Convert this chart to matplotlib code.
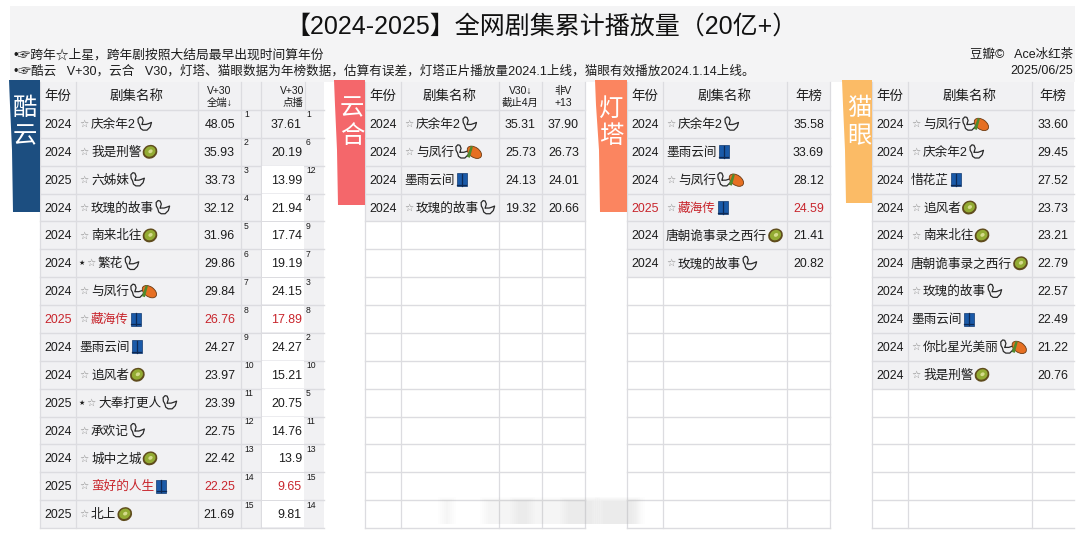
import matplotlib
matplotlib.use('Agg')
import matplotlib.pyplot as plt
from matplotlib.patches import Rectangle, Polygon, Ellipse

plt.rcParams['font.family'] = ['Liberation Sans', 'Noto Sans CJK SC', 'DejaVu Sans']

title = '【2024-2025】全网剧集累计播放量（20亿+）'
note_1 = '•☞跨年☆上星，跨年剧按照大结局最早出现时间算年份'
note_2 = '•☞酷云   V+30，云合   V30，灯塔、猫眼数据为年榜数据，估算有误差，灯塔正片播放量2024.1上线，猫眼有效播放2024.1.14上线。'
source_1 = '豆瓣©   Ace冰红茶'
source_2 = '2025/06/25'

# 酷云
ky_years = [2024, 2024, 2025, 2024, 2024, 2024, 2024, 2025, 2024, 2024, 2025, 2024, 2024, 2025, 2025]
ky_names = ['☆庆余年2', '☆我是刑警', '☆六姊妹', '☆玫瑰的故事', '☆南来北往', '★☆繁花', '☆与凤行', '☆藏海传',
            '墨雨云间', '☆追风者', '★☆大奉打更人', '☆承欢记', '☆城中之城', '☆蛮好的人生', '☆北上']
ky_icons = ['swan', 'kiwi', 'swan', 'swan', 'kiwi', 'swan', 'swanmango', 'blue',
            'blue', 'kiwi', 'swan', 'swan', 'kiwi', 'blue', 'kiwi']
ky_total = ['48.05', '35.93', '33.73', '32.12', '31.96', '29.86', '29.84', '26.76',
            '24.27', '23.97', '23.39', '22.75', '22.42', '22.25', '21.69']
ky_total_rank = [1, 2, 3, 4, 5, 6, 7, 8, 9, 10, 11, 12, 13, 14, 15]
ky_vod = ['37.61', '20.19', '13.99', '21.94', '17.74', '19.19', '24.15', '17.89',
          '24.27', '15.21', '20.75', '14.76', '13.9', '9.65', '9.81']
ky_vod_rank = [1, 6, 12, 4, 9, 7, 3, 8, 2, 10, 5, 11, 13, 15, 14]
ky_red_rows = [7, 13]
ky_red_years = [7]

# 云合
yh_years = [2024, 2024, 2024, 2024]
yh_names = ['☆庆余年2', '☆与凤行', '墨雨云间', '☆玫瑰的故事']
yh_icons = ['swan', 'swanmango', 'blue', 'swan']
yh_v30 = ['35.31', '25.73', '24.13', '19.32']
yh_non_v = ['37.90', '26.73', '24.01', '20.66']

# 灯塔
dt_years = [2024, 2024, 2024, 2025, 2024, 2024]
dt_names = ['☆庆余年2', '墨雨云间', '☆与凤行', '☆藏海传', '唐朝诡事录之西行', '☆玫瑰的故事']
dt_icons = ['swan', 'blue', 'swanmango', 'blue', 'kiwi', 'swan']
dt_values = ['35.58', '33.69', '28.12', '24.59', '21.41', '20.82']
dt_red_rows = [3]

# 猫眼
my_years = [2024] * 10
my_names = ['☆与凤行', '☆庆余年2', '惜花芷', '☆追风者', '☆南来北往', '唐朝诡事录之西行',
            '☆玫瑰的故事', '墨雨云间', '☆你比星光美丽', '☆我是刑警']
my_icons = ['swanmango', 'swan', 'blue', 'kiwi', 'kiwi', 'kiwi', 'swan', 'blue', 'swanmango', 'kiwi']
my_values = ['33.60', '29.45', '27.52', '23.73', '23.21', '22.79', '22.57', '22.49', '21.22', '20.76']

ROW_TOP = 110
ROW_H = 27.87
HEAD_TOP = 82
N_ROWS = 15
BOTTOM = ROW_TOP + N_ROWS * ROW_H
RED = '#c8252c'
TEXT = '#1c1c1c'
GRAY = '#f1f1f3'
LINE = '#dcdce0'
NUM_SIZE = 8.9

fig = plt.figure(figsize=(10.8, 5.34), dpi=100)
ax = fig.add_axes([0, 0, 1, 1])
ax.set_xlim(0, 1080)
ax.set_ylim(534, 0)
ax.axis('off')
renderer = fig.canvas.get_renderer()


def cell_text(x, y, s, size=NUM_SIZE, color=TEXT, ha='center'):
    # CJK fallback sits a little high with va=center
    ax.text(x, y + 1, s, fontsize=size, color=color, ha=ha, va='center', zorder=4, linespacing=1.25)


def draw_swan(x, y):
    px = [x + 5, x + 6.2, x + 5, x + 3, x + 1, x + 1.2, x + 2.6, x + 3.6, x + 6, x + 10, x + 13.2, x + 14.5, x + 12, x + 9, x + 6]
    py = [y + 0.5, y - 3.5, y - 6.5, y - 7, y - 5, y - 1.5, y + 1, y + 4.5, y + 6.2, y + 6.2, y + 3, y - 1.5, y - 0.5, y + 0.5, y + 0.5]
    ax.plot(px, py, color='#2a2a2a', lw=0.9, zorder=5, solid_joinstyle='round')


def draw_kiwi(x, y):
    ax.add_patch(Ellipse((x + 7.5, y), 15, 13.5, angle=-30, fc='#5f4c1d', ec='none', zorder=5))
    ax.add_patch(Ellipse((x + 7.5, y - 0.3), 11.5, 10, angle=-30, fc='#93ab33', ec='none', zorder=6))
    ax.add_patch(Ellipse((x + 8, y - 0.5), 4.5, 3.5, angle=-30, fc='#d5dc8c', ec='none', zorder=7))


def draw_mango(x, y):
    ax.add_patch(Ellipse((x + 8.5, y + 0.5), 16, 10, angle=35, fc='#e66f22', ec='#6b3a12', lw=0.6, zorder=6))
    ax.add_patch(Polygon([(x + 1, y + 5), (x + 5, y - 6), (x + 7, y - 5), (x + 4, y + 6)],
                         fc='#4f8a2c', ec='none', zorder=7))


def draw_blue(x, y):
    ax.add_patch(Rectangle((x, y - 6.5), 10, 13, fc='#1a5aa8', ec='#123a70', lw=0.5, zorder=5))
    ax.plot([x + 5, x + 5], [y - 6, y + 6], color='#0d2a55', lw=0.9, zorder=6)
    ax.plot([x + 0.5, x + 9.5], [y + 5, y + 5], color='#0d2a55', lw=0.9, zorder=6)


def draw_icon(kind, x, y):
    if kind == 'swan':
        draw_swan(x, y)
    elif kind == 'kiwi':
        draw_kiwi(x, y)
    elif kind == 'blue':
        draw_blue(x + 1, y)
    elif kind == 'swanmango':
        draw_swan(x, y)
        draw_mango(x + 11, y)


def draw_name(name, icon, x, y, color):
    # star prefix is lighter than the name
    prefix = ''
    while name[0] in '★☆':
        prefix += name[0]
        name = name[1:]
    if prefix.startswith('★'):
        ax.text(x, y, '★', fontsize=5, color=TEXT, ha='left', va='center', family=['DejaVu Sans'], zorder=4)
        x += 7
    if prefix:
        ax.text(x, y, '☆', fontsize=7.5, color='#8a8a8a', ha='left', va='center', family=['DejaVu Sans'], zorder=4)
        x += 12
    t = ax.text(x, y + 1, name, fontsize=9.1, color=color, ha='left', va='center', zorder=4)
    end = t.get_window_extent(renderer).x1
    draw_icon(icon, end + 1, y)


def draw_table(cols, headers, years, names, icons, red_rows=(), red_years=(), right_line=True):
    left, right = cols[0], cols[-1]
    n = len(years)
    ax.add_patch(Rectangle((left, HEAD_TOP), right - left, ROW_TOP - HEAD_TOP, fc=GRAY, ec='none', zorder=1))
    ax.add_patch(Rectangle((left, ROW_TOP), right - left, n * ROW_H, fc=GRAY, ec='none', zorder=1))
    for i in range(N_ROWS + 1):
        y = ROW_TOP + i * ROW_H
        ax.plot([left, right], [y, y], color=LINE, lw=1.0, zorder=2)
    line_cols = cols if right_line else cols[:-1]
    for c in line_cols:
        ax.plot([c, c], [HEAD_TOP, BOTTOM], color=LINE, lw=0.9, zorder=2)
    for (text, size), a, b in zip(headers, cols[:-1], cols[1:]):
        cell_text((a + b) / 2, (HEAD_TOP + ROW_TOP) / 2, text, size=size)
    for i in range(n):
        y = ROW_TOP + (i + 0.5) * ROW_H
        cell_text((cols[0] + cols[1]) / 2, y, str(years[i]), color=RED if i in red_years else TEXT)
        draw_name(names[i], icons[i], cols[1] + 3, y, RED if i in red_rows else TEXT)


def draw_ribbon(x0, x1, x_low, y_low, color, label, cx):
    pts = [(x0, 80), (x1, 80), (x1, y_low), (x_low, y_low), (x_low - 1, 150), (x0 + 1, 105)]
    ax.add_patch(Polygon(pts, fc=color, ec='none', zorder=3))
    ax.text(cx, 109, label[0], fontsize=17.5, color='white', ha='center', va='center', zorder=4)
    ax.text(cx, 137, label[1], fontsize=17.5, color='white', ha='center', va='center', zorder=4)


# top band
ax.add_patch(Rectangle((10, 6), 1065, 76, fc='#f4f4f5', ec='none', zorder=0))
ax.text(541, 27, title, fontsize=18, color='#111111', ha='center', va='center')
ax.text(14, 55, note_1, fontsize=9.2, color=TEXT, ha='left', va='center')
ax.text(14, 71.5, note_2, fontsize=9.05, color=TEXT, ha='left', va='center')
ax.text(1073, 55, source_1, fontsize=9, color=TEXT, ha='right', va='center')
ax.text(1073, 71.5, source_2, fontsize=9, color=TEXT, ha='right', va='center')

# 酷云
ky_cols = [40, 76, 198, 241, 261, 324]
draw_table(ky_cols,
           [('年份', 9.7), ('剧集名称', 9.7), ('V+30\n全端↓', 7.5), ('', 7.5), ('V+30\n点播', 7.5)],
           ky_years, ky_names, ky_icons, ky_red_rows, ky_red_years, right_line=False)
ax.plot([305, 305], [HEAD_TOP, ROW_TOP], color=LINE, lw=0.8, zorder=2)
# 点播 cells are white from row 3 down
for i in range(2, N_ROWS):
    ax.add_patch(Rectangle((262, ROW_TOP + i * ROW_H + 0.6), 42, ROW_H - 1.2, fc='white', ec='none', zorder=2.5))
for i in range(N_ROWS):
    y = ROW_TOP + (i + 0.5) * ROW_H
    color = RED if i in ky_red_rows else TEXT
    cell_text(235, y, ky_total[i], color=color, ha='right')
    cell_text(302, y, ky_vod[i], color=color, ha='right')
    cell_text(244, y - 10, str(ky_total_rank[i]), size=6.2, ha='left')
    cell_text(306, y - 10, str(ky_vod_rank[i]), size=6.2, ha='left')

# 云合
yh_cols = [365, 401, 499, 542, 585]
draw_table(yh_cols,
           [('年份', 9.7), ('剧集名称', 9.7), ('V30↓\n截止4月', 7.5), ('非V\n+13', 7.5)],
           yh_years, yh_names, yh_icons)
for i in range(len(yh_years)):
    y = ROW_TOP + (i + 0.5) * ROW_H
    cell_text(520.5, y, yh_v30[i])
    cell_text(563.5, y, yh_non_v[i])

# 灯塔
dt_cols = [627, 663, 787, 830]
draw_table(dt_cols, [('年份', 9.7), ('剧集名称', 9.7), ('年榜', 9.7)], dt_years, dt_names, dt_icons,
           dt_red_rows, dt_red_rows)
for i in range(len(dt_years)):
    y = ROW_TOP + (i + 0.5) * ROW_H
    cell_text(808.5, y, dt_values[i], color=RED if i in dt_red_rows else TEXT)

# 猫眼
my_cols = [872, 908, 1032, 1074]
draw_table(my_cols, [('年份', 9.7), ('剧集名称', 9.7), ('年榜', 9.7)], my_years, my_names, my_icons,
           right_line=False)
for i in range(len(my_years)):
    y = ROW_TOP + (i + 0.5) * ROW_H
    cell_text(1053, y, my_values[i])

draw_ribbon(9, 40, 13, 212, '#1c4e80', '酷云', 25)
draw_ribbon(334, 365, 338, 205, '#f4676b', '云合', 352)
draw_ribbon(595, 627, 600, 212, '#fb8560', '灯塔', 611)
draw_ribbon(842, 872, 846, 203, '#fbbb66', '猫眼', 859)

# blurred watermark over the bottom of the tables
for x0, x1 in [(438, 456), (480, 645), (510, 535), (560, 600), (595, 640)]:
    for k in range(5):
        ax.add_patch(Rectangle((x0 + k * 2, 497 + k), x1 - x0 - k * 4, 27 - k,
                               fc='#b0b0b0', alpha=0.025, ec='none', zorder=5))

plt.savefig('out.png', dpi=100)
